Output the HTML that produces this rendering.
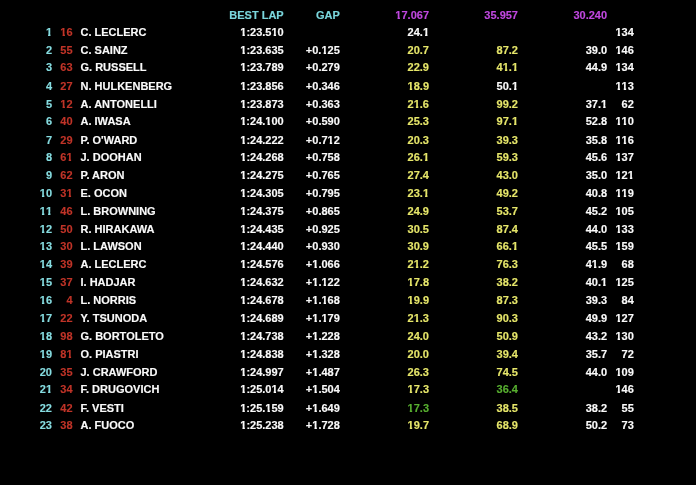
<!DOCTYPE html>
<html><head><meta charset="utf-8"><style>
html,body{margin:0;padding:0;background:#000;width:696px;height:485px;overflow:hidden}
body{position:relative;font-family:"Liberation Sans",sans-serif;font-weight:bold;font-size:11px;line-height:14px;-webkit-font-smoothing:antialiased;-webkit-text-stroke:0.15px}
.r{position:absolute;left:0;top:0;width:696px;height:14px}
.r>span{position:absolute;top:0;white-space:nowrap}
.p{color:#86dce0}
.n{color:#c03428}
.d{color:#fafafa}
.h{color:#7ad6dc}
.m{color:#c048e0}
.w{color:#fafafa}
.y{color:#e6e66a}
.g{color:#58b030}
.o{display:inline-block;clip-path:polygon(0 0,100% 0,100% 8.5px,4.6px 8.5px,4.6px 100%,2.2px 100%,2.2px 8.5px,0 8.5px)}
</style></head><body>
<div style="position:absolute;left:0;top:0;width:696px;height:485px;will-change:transform"><div class="r" style="top:8.00px"><span class="h" style="right:412.30px">BEST LAP</span><span class="h" style="right:356.20px">GAP</span><span class="m" style="right:267.00px"><span class="o">1</span>7.067</span><span class="m" style="right:178.00px">35.957</span><span class="m" style="right:88.90px">30.240</span></div>
<div class="r" style="top:25.25px"><span class="p" style="right:644.00px"><span class="o">1</span></span><span class="n" style="right:623.40px"><span class="o">1</span>6</span><span class="d" style="left:80.50px">C. LECLERC</span><span class="d" style="right:412.30px"><span class="o">1</span>:23.5<span class="o">1</span>0</span><span class="w" style="right:267.00px">24.<span class="o">1</span></span><span class="d" style="right:62.20px"><span class="o">1</span>34</span></div>
<div class="r" style="top:43.09px"><span class="p" style="right:644.00px">2</span><span class="n" style="right:623.40px">55</span><span class="d" style="left:80.50px">C. SAINZ</span><span class="d" style="right:412.30px"><span class="o">1</span>:23.635</span><span class="d" style="right:356.20px">+0.<span class="o">1</span>25</span><span class="y" style="right:267.00px">20.7</span><span class="y" style="right:178.00px">87.2</span><span class="w" style="right:88.90px">39.0</span><span class="d" style="right:62.20px"><span class="o">1</span>46</span></div>
<div class="r" style="top:59.94px"><span class="p" style="right:644.00px">3</span><span class="n" style="right:623.40px">63</span><span class="d" style="left:80.50px">G. RUSSELL</span><span class="d" style="right:412.30px"><span class="o">1</span>:23.789</span><span class="d" style="right:356.20px">+0.279</span><span class="y" style="right:267.00px">22.9</span><span class="y" style="right:178.00px">4<span class="o">1</span>.<span class="o">1</span></span><span class="w" style="right:88.90px">44.9</span><span class="d" style="right:62.20px"><span class="o">1</span>34</span></div>
<div class="r" style="top:78.79px"><span class="p" style="right:644.00px">4</span><span class="n" style="right:623.40px">27</span><span class="d" style="left:80.50px">N. HULKENBERG</span><span class="d" style="right:412.30px"><span class="o">1</span>:23.856</span><span class="d" style="right:356.20px">+0.346</span><span class="y" style="right:267.00px"><span class="o">1</span>8.9</span><span class="w" style="right:178.00px">50.<span class="o">1</span></span><span class="d" style="right:62.20px"><span class="o">1</span><span class="o">1</span>3</span></div>
<div class="r" style="top:96.64px"><span class="p" style="right:644.00px">5</span><span class="n" style="right:623.40px"><span class="o">1</span>2</span><span class="d" style="left:80.50px">A. ANTONELLI</span><span class="d" style="right:412.30px"><span class="o">1</span>:23.873</span><span class="d" style="right:356.20px">+0.363</span><span class="y" style="right:267.00px">2<span class="o">1</span>.6</span><span class="y" style="right:178.00px">99.2</span><span class="w" style="right:88.90px">37.<span class="o">1</span></span><span class="d" style="right:62.20px">62</span></div>
<div class="r" style="top:114.48px"><span class="p" style="right:644.00px">6</span><span class="n" style="right:623.40px">40</span><span class="d" style="left:80.50px">A. IWASA</span><span class="d" style="right:412.30px"><span class="o">1</span>:24.<span class="o">1</span>00</span><span class="d" style="right:356.20px">+0.590</span><span class="y" style="right:267.00px">25.3</span><span class="y" style="right:178.00px">97.<span class="o">1</span></span><span class="w" style="right:88.90px">52.8</span><span class="d" style="right:62.20px"><span class="o">1</span><span class="o">1</span>0</span></div>
<div class="r" style="top:133.33px"><span class="p" style="right:644.00px">7</span><span class="n" style="right:623.40px">29</span><span class="d" style="left:80.50px">P. O'WARD</span><span class="d" style="right:412.30px"><span class="o">1</span>:24.222</span><span class="d" style="right:356.20px">+0.7<span class="o">1</span>2</span><span class="y" style="right:267.00px">20.3</span><span class="y" style="right:178.00px">39.3</span><span class="w" style="right:88.90px">35.8</span><span class="d" style="right:62.20px"><span class="o">1</span><span class="o">1</span>6</span></div>
<div class="r" style="top:150.18px"><span class="p" style="right:644.00px">8</span><span class="n" style="right:623.40px">6<span class="o">1</span></span><span class="d" style="left:80.50px">J. DOOHAN</span><span class="d" style="right:412.30px"><span class="o">1</span>:24.268</span><span class="d" style="right:356.20px">+0.758</span><span class="y" style="right:267.00px">26.<span class="o">1</span></span><span class="y" style="right:178.00px">59.3</span><span class="w" style="right:88.90px">45.6</span><span class="d" style="right:62.20px"><span class="o">1</span>37</span></div>
<div class="r" style="top:168.02px"><span class="p" style="right:644.00px">9</span><span class="n" style="right:623.40px">62</span><span class="d" style="left:80.50px">P. ARON</span><span class="d" style="right:412.30px"><span class="o">1</span>:24.275</span><span class="d" style="right:356.20px">+0.765</span><span class="y" style="right:267.00px">27.4</span><span class="y" style="right:178.00px">43.0</span><span class="w" style="right:88.90px">35.0</span><span class="d" style="right:62.20px"><span class="o">1</span>2<span class="o">1</span></span></div>
<div class="r" style="top:185.87px"><span class="p" style="right:644.00px"><span class="o">1</span>0</span><span class="n" style="right:623.40px">3<span class="o">1</span></span><span class="d" style="left:80.50px">E. OCON</span><span class="d" style="right:412.30px"><span class="o">1</span>:24.305</span><span class="d" style="right:356.20px">+0.795</span><span class="y" style="right:267.00px">23.<span class="o">1</span></span><span class="y" style="right:178.00px">49.2</span><span class="w" style="right:88.90px">40.8</span><span class="d" style="right:62.20px"><span class="o">1</span><span class="o">1</span>9</span></div>
<div class="r" style="top:203.72px"><span class="p" style="right:644.00px"><span class="o">1</span><span class="o">1</span></span><span class="n" style="right:623.40px">46</span><span class="d" style="left:80.50px">L. BROWNING</span><span class="d" style="right:412.30px"><span class="o">1</span>:24.375</span><span class="d" style="right:356.20px">+0.865</span><span class="y" style="right:267.00px">24.9</span><span class="y" style="right:178.00px">53.7</span><span class="w" style="right:88.90px">45.2</span><span class="d" style="right:62.20px"><span class="o">1</span>05</span></div>
<div class="r" style="top:221.56px"><span class="p" style="right:644.00px"><span class="o">1</span>2</span><span class="n" style="right:623.40px">50</span><span class="d" style="left:80.50px">R. HIRAKAWA</span><span class="d" style="right:412.30px"><span class="o">1</span>:24.435</span><span class="d" style="right:356.20px">+0.925</span><span class="y" style="right:267.00px">30.5</span><span class="y" style="right:178.00px">87.4</span><span class="w" style="right:88.90px">44.0</span><span class="d" style="right:62.20px"><span class="o">1</span>33</span></div>
<div class="r" style="top:239.41px"><span class="p" style="right:644.00px"><span class="o">1</span>3</span><span class="n" style="right:623.40px">30</span><span class="d" style="left:80.50px">L. LAWSON</span><span class="d" style="right:412.30px"><span class="o">1</span>:24.440</span><span class="d" style="right:356.20px">+0.930</span><span class="y" style="right:267.00px">30.9</span><span class="y" style="right:178.00px">66.<span class="o">1</span></span><span class="w" style="right:88.90px">45.5</span><span class="d" style="right:62.20px"><span class="o">1</span>59</span></div>
<div class="r" style="top:257.26px"><span class="p" style="right:644.00px"><span class="o">1</span>4</span><span class="n" style="right:623.40px">39</span><span class="d" style="left:80.50px">A. LECLERC</span><span class="d" style="right:412.30px"><span class="o">1</span>:24.576</span><span class="d" style="right:356.20px">+<span class="o">1</span>.066</span><span class="y" style="right:267.00px">2<span class="o">1</span>.2</span><span class="y" style="right:178.00px">76.3</span><span class="w" style="right:88.90px">4<span class="o">1</span>.9</span><span class="d" style="right:62.20px">68</span></div>
<div class="r" style="top:275.11px"><span class="p" style="right:644.00px"><span class="o">1</span>5</span><span class="n" style="right:623.40px">37</span><span class="d" style="left:80.50px">I. HADJAR</span><span class="d" style="right:412.30px"><span class="o">1</span>:24.632</span><span class="d" style="right:356.20px">+<span class="o">1</span>.<span class="o">1</span>22</span><span class="y" style="right:267.00px"><span class="o">1</span>7.8</span><span class="y" style="right:178.00px">38.2</span><span class="w" style="right:88.90px">40.<span class="o">1</span></span><span class="d" style="right:62.20px"><span class="o">1</span>25</span></div>
<div class="r" style="top:292.95px"><span class="p" style="right:644.00px"><span class="o">1</span>6</span><span class="n" style="right:623.40px">4</span><span class="d" style="left:80.50px">L. NORRIS</span><span class="d" style="right:412.30px"><span class="o">1</span>:24.678</span><span class="d" style="right:356.20px">+<span class="o">1</span>.<span class="o">1</span>68</span><span class="y" style="right:267.00px"><span class="o">1</span>9.9</span><span class="y" style="right:178.00px">87.3</span><span class="w" style="right:88.90px">39.3</span><span class="d" style="right:62.20px">84</span></div>
<div class="r" style="top:310.80px"><span class="p" style="right:644.00px"><span class="o">1</span>7</span><span class="n" style="right:623.40px">22</span><span class="d" style="left:80.50px">Y. TSUNODA</span><span class="d" style="right:412.30px"><span class="o">1</span>:24.689</span><span class="d" style="right:356.20px">+<span class="o">1</span>.<span class="o">1</span>79</span><span class="y" style="right:267.00px">2<span class="o">1</span>.3</span><span class="y" style="right:178.00px">90.3</span><span class="w" style="right:88.90px">49.9</span><span class="d" style="right:62.20px"><span class="o">1</span>27</span></div>
<div class="r" style="top:328.65px"><span class="p" style="right:644.00px"><span class="o">1</span>8</span><span class="n" style="right:623.40px">98</span><span class="d" style="left:80.50px">G. BORTOLETO</span><span class="d" style="right:412.30px"><span class="o">1</span>:24.738</span><span class="d" style="right:356.20px">+<span class="o">1</span>.228</span><span class="y" style="right:267.00px">24.0</span><span class="y" style="right:178.00px">50.9</span><span class="w" style="right:88.90px">43.2</span><span class="d" style="right:62.20px"><span class="o">1</span>30</span></div>
<div class="r" style="top:347.49px"><span class="p" style="right:644.00px"><span class="o">1</span>9</span><span class="n" style="right:623.40px">8<span class="o">1</span></span><span class="d" style="left:80.50px">O. PIASTRI</span><span class="d" style="right:412.30px"><span class="o">1</span>:24.838</span><span class="d" style="right:356.20px">+<span class="o">1</span>.328</span><span class="y" style="right:267.00px">20.0</span><span class="y" style="right:178.00px">39.4</span><span class="w" style="right:88.90px">35.7</span><span class="d" style="right:62.20px">72</span></div>
<div class="r" style="top:365.34px"><span class="p" style="right:644.00px">20</span><span class="n" style="right:623.40px">35</span><span class="d" style="left:80.50px">J. CRAWFORD</span><span class="d" style="right:412.30px"><span class="o">1</span>:24.997</span><span class="d" style="right:356.20px">+<span class="o">1</span>.487</span><span class="y" style="right:267.00px">26.3</span><span class="y" style="right:178.00px">74.5</span><span class="w" style="right:88.90px">44.0</span><span class="d" style="right:62.20px"><span class="o">1</span>09</span></div>
<div class="r" style="top:382.19px"><span class="p" style="right:644.00px">2<span class="o">1</span></span><span class="n" style="right:623.40px">34</span><span class="d" style="left:80.50px">F. DRUGOVICH</span><span class="d" style="right:412.30px"><span class="o">1</span>:25.0<span class="o">1</span>4</span><span class="d" style="right:356.20px">+<span class="o">1</span>.504</span><span class="y" style="right:267.00px"><span class="o">1</span>7.3</span><span class="g" style="right:178.00px">36.4</span><span class="d" style="right:62.20px"><span class="o">1</span>46</span></div>
<div class="r" style="top:401.03px"><span class="p" style="right:644.00px">22</span><span class="n" style="right:623.40px">42</span><span class="d" style="left:80.50px">F. VESTI</span><span class="d" style="right:412.30px"><span class="o">1</span>:25.<span class="o">1</span>59</span><span class="d" style="right:356.20px">+<span class="o">1</span>.649</span><span class="g" style="right:267.00px"><span class="o">1</span>7.3</span><span class="y" style="right:178.00px">38.5</span><span class="w" style="right:88.90px">38.2</span><span class="d" style="right:62.20px">55</span></div>
<div class="r" style="top:417.88px"><span class="p" style="right:644.00px">23</span><span class="n" style="right:623.40px">38</span><span class="d" style="left:80.50px">A. FUOCO</span><span class="d" style="right:412.30px"><span class="o">1</span>:25.238</span><span class="d" style="right:356.20px">+<span class="o">1</span>.728</span><span class="y" style="right:267.00px"><span class="o">1</span>9.7</span><span class="y" style="right:178.00px">68.9</span><span class="w" style="right:88.90px">50.2</span><span class="d" style="right:62.20px">73</span></div>
</div></body></html>
